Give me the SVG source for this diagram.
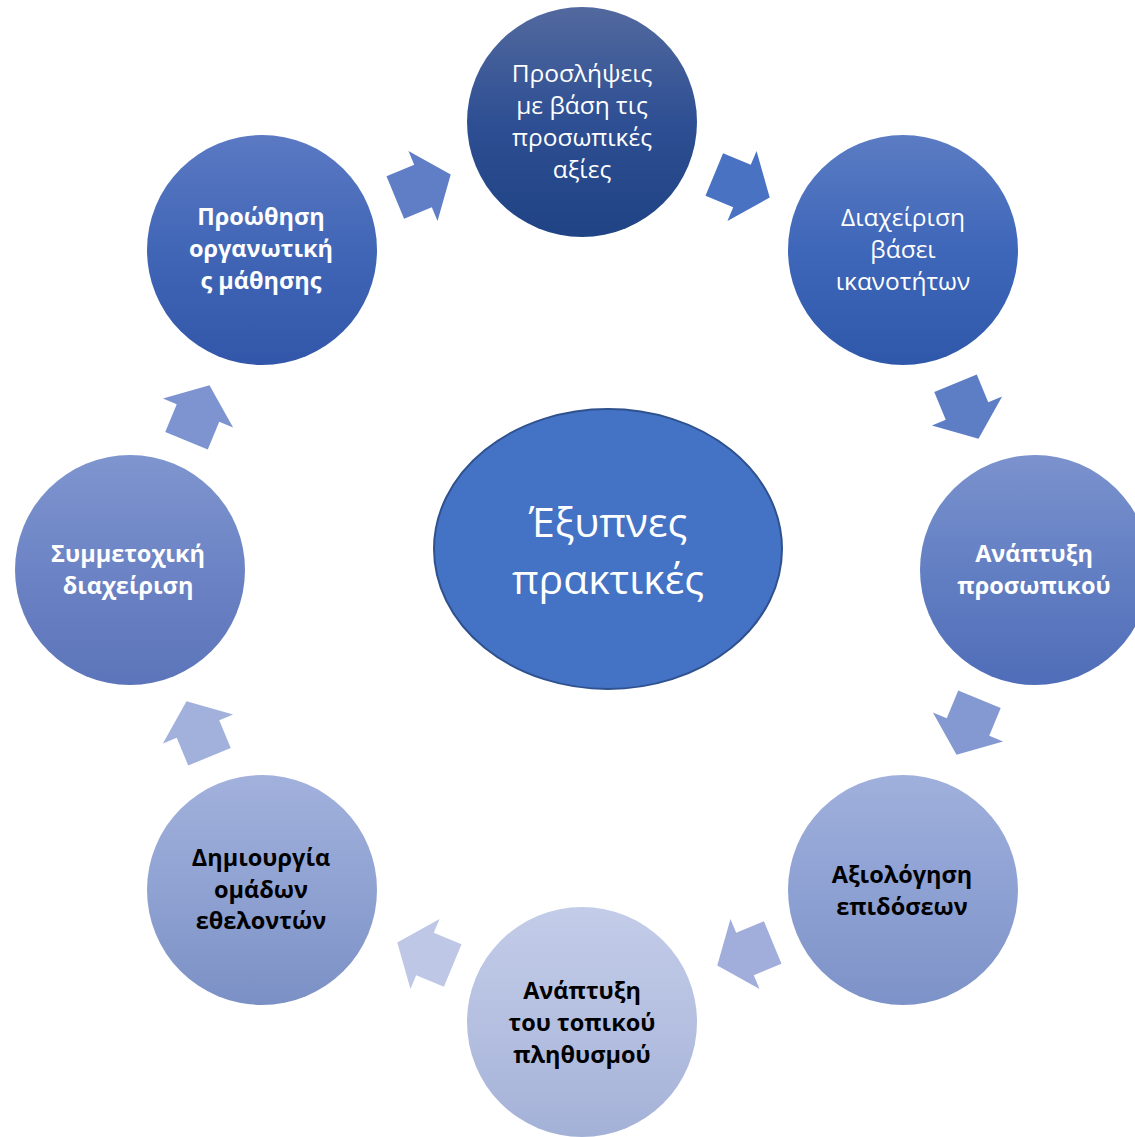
<svg xmlns="http://www.w3.org/2000/svg" width="1135" height="1137" viewBox="0 0 1135 1137">
<defs>
<linearGradient id="g1" x1="0" y1="0" x2="0" y2="1"><stop offset="0" stop-color="#52699e"/><stop offset="0.5" stop-color="#2e4f93"/><stop offset="1" stop-color="#1f4384"/></linearGradient>
<linearGradient id="g2" x1="0" y1="0" x2="0" y2="1"><stop offset="0" stop-color="#5b7cc3"/><stop offset="0.5" stop-color="#3e66b9"/><stop offset="1" stop-color="#2f58ab"/></linearGradient>
<linearGradient id="g3" x1="0" y1="0" x2="0" y2="1"><stop offset="0" stop-color="#7b92cd"/><stop offset="0.5" stop-color="#637fc3"/><stop offset="1" stop-color="#4f6db8"/></linearGradient>
<linearGradient id="g4" x1="0" y1="0" x2="0" y2="1"><stop offset="0" stop-color="#a0b0dc"/><stop offset="0.5" stop-color="#8ea1d3"/><stop offset="1" stop-color="#7d92c8"/></linearGradient>
<linearGradient id="g5" x1="0" y1="0" x2="0" y2="1"><stop offset="0" stop-color="#c3cce8"/><stop offset="0.5" stop-color="#b5c0e1"/><stop offset="1" stop-color="#a4b1d7"/></linearGradient>
<linearGradient id="g6" x1="0" y1="0" x2="0" y2="1"><stop offset="0" stop-color="#a2b1dc"/><stop offset="0.5" stop-color="#8fa2d2"/><stop offset="1" stop-color="#7b90c5"/></linearGradient>
<linearGradient id="g7" x1="0" y1="0" x2="0" y2="1"><stop offset="0" stop-color="#7f95cf"/><stop offset="0.5" stop-color="#6c84c5"/><stop offset="1" stop-color="#5c74b9"/></linearGradient>
<linearGradient id="g8" x1="0" y1="0" x2="0" y2="1"><stop offset="0" stop-color="#5b79c3"/><stop offset="0.5" stop-color="#4166b6"/><stop offset="1" stop-color="#3256a9"/></linearGradient>
<path id="arr" d="M-30,-23 L0,-23 L0,-38 L30,0 L0,38 L0,23 L-30,23 Z"/>
</defs>
<style>
text{font-family:"Open Sans","Noto Sans","DejaVu Sans",sans-serif;text-anchor:middle;font-size:24.5px}
.w{fill:#ffffff}
.k{fill:#000000}
.b{font-weight:bold;font-size:23.5px}
.c{font-size:41px;fill:#ffffff}
</style>
<rect width="1135" height="1137" fill="#ffffff"/>
<g id="connectors">
<use href="#arr" transform="translate(423,186) rotate(-22.5)" fill="#5f7ec5"/>
<use href="#arr" transform="translate(742,186) rotate(22.5)" fill="#4a72c2"/>
<use href="#arr" transform="translate(967,411) rotate(67.5)" fill="#5d7dc5"/>
<use href="#arr" transform="translate(968,727) rotate(112.5)" fill="#8499d1"/>
<use href="#arr" transform="translate(745,954) rotate(157.5)" fill="#a1aedb"/>
<use href="#arr" transform="translate(425,954) rotate(202.5)" fill="#bec8e6"/>
<use href="#arr" transform="translate(198,729) rotate(247.5)" fill="#a2b0dc"/>
<use href="#arr" transform="translate(198,413) rotate(292.5)" fill="#7e94d0"/>
</g>
<g id="center">
<ellipse cx="608" cy="549" rx="174" ry="140" fill="#4472c4" stroke="#2f528f" stroke-width="2"/>
<text class="c" x="608" y="537">Έξυπνες</text>
<text class="c" x="608" y="594">πρακτικές</text>
</g>
<g id="n1">
<circle cx="582" cy="122" r="115" fill="url(#g1)"/>
<text class="w" x="582" y="82">Προσλήψεις</text>
<text class="w" x="582" y="114">με βάση τις</text>
<text class="w" x="582" y="146">προσωπικές</text>
<text class="w" x="582" y="178">αξίες</text>
</g>
<g id="n2">
<circle cx="903" cy="250" r="115" fill="url(#g2)"/>
<text class="w" x="903" y="226">Διαχείριση</text>
<text class="w" x="903" y="258">βάσει</text>
<text class="w" x="903" y="290">ικανοτήτων</text>
</g>
<g id="n3">
<circle cx="1035" cy="570" r="115" fill="url(#g3)"/>
<text class="w b" x="1034" y="562">Ανάπτυξη</text>
<text class="w b" x="1034" y="594">προσωπικού</text>
</g>
<g id="n4">
<circle cx="903" cy="890" r="115" fill="url(#g4)"/>
<text class="k b" x="902" y="883">Αξιολόγηση</text>
<text class="k b" x="902" y="915">επιδόσεων</text>
</g>
<g id="n5">
<circle cx="582" cy="1022" r="115" fill="url(#g5)"/>
<text class="k b" x="582" y="999">Ανάπτυξη</text>
<text class="k b" x="582" y="1031">του τοπικού</text>
<text class="k b" x="582" y="1063">πληθυσμού</text>
</g>
<g id="n6">
<circle cx="262" cy="890" r="115" fill="url(#g6)"/>
<text class="k b" x="261" y="866">Δημιουργία</text>
<text class="k b" x="261" y="898">ομάδων</text>
<text class="k b" x="261" y="929">εθελοντών</text>
</g>
<g id="n7">
<circle cx="130" cy="570" r="115" fill="url(#g7)"/>
<text class="w b" x="128" y="562">Συμμετοχική</text>
<text class="w b" x="128" y="594">διαχείριση</text>
</g>
<g id="n8">
<circle cx="262" cy="250" r="115" fill="url(#g8)"/>
<text class="w b" x="261" y="225">Προώθηση</text>
<text class="w b" x="261" y="257">οργανωτική</text>
<text class="w b" x="261" y="289">ς μάθησης</text>
</g>
</svg>
